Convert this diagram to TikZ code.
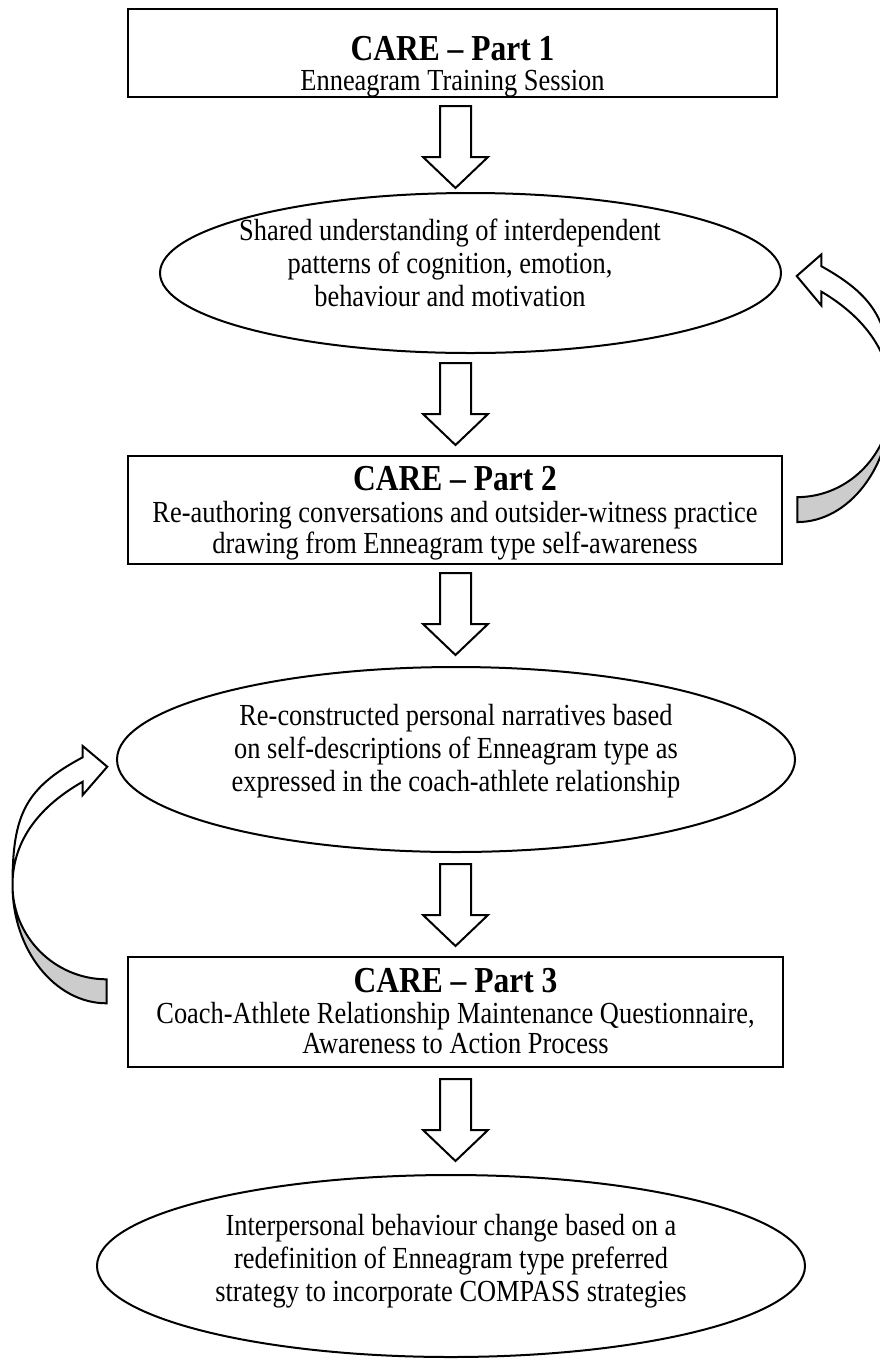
\documentclass[tikz,border=0pt]{standalone}
\usepackage{fontspec}
\setmainfont{Liberation Serif}
\usetikzlibrary{shapes.geometric,calc}
\definecolor{bandgray}{gray}{0.8}
\newcommand{\tallfont}[1]{\scalebox{1}[1.16]{#1}}
\tikzset{
  outline/.style={draw=black, line width=2pt, line join=miter},
  stagebox/.style={outline, rectangle, inner sep=0pt},
  outcome/.style={outline, ellipse, inner sep=0pt},
  titletext/.style={font=\fontsize{31.5}{36}\selectfont\bfseries, anchor=base, inner sep=0pt},
  bodytext/.style={font=\fontsize{26.4}{33}\selectfont, anchor=base, inner sep=0pt},
  % hollow block arrow pointing down, origin at the top centre of the shaft
  pics/blockdown/.style={code={
    \draw[outline, fill=white] (-15.5,0) -- (15.5,0) -- (15.5,51) -- (32.5,51)
      -- (0,82) -- (-32.5,51) -- (-15.5,51) -- cycle;
  }},
  % curved feedback arrow, origin at the arrow tip, band bending to the left
  pics/curvedarrow/.style={code={
    \draw[outline, fill=bandgray]
      (-94.8,118.3) .. controls (-94.8,183.3) and (-52.4,236.6) .. (-0.6,236.6)
      -- (-0.6,212.6) .. controls (-52.4,212.6) and (-94.8,170.3) .. (-94.8,118.3) -- cycle;
    \draw[outline, fill=white]
      (-24.6,-9.4) -- (-24.6,-20.7) -- (0,0) -- (-24.6,28.3) -- (-24.6,15)
      .. controls (-67.3,39.3) and (-94.8,73.3) .. (-94.8,118.3)
      .. controls (-94.8,48.3) and (-82.3,21.3) .. (-24.6,-9.4) -- cycle;
  }}
}
\begin{document}
\begin{tikzpicture}[x=1pt, y=-1pt]
\useasboundingbox (0,0) rectangle (880,1361);

% stage boxes
\node[stagebox, minimum width=649pt, minimum height=88pt] (b1) at (452.5,53.3) {};
\node[stagebox, minimum width=654pt, minimum height=108pt] (b2) at (455,510) {};
\node[stagebox, minimum width=655pt, minimum height=110pt] (b3) at (455.5,1012) {};

% outcome ellipses
\node[outcome, minimum width=621pt, minimum height=160pt] (e1) at (470.5,273) {};
\node[outcome, minimum width=678pt, minimum height=185pt] (e2) at (456,759.5) {};
\node[outcome, minimum width=708pt, minimum height=182pt] (e3) at (451,1266) {};

% texts of the stage boxes
\node[titletext] (b1t) at (452.5,60) {\tallfont{CARE – Part 1}};
\node[bodytext]  (b1a) at (452.5,90) {\tallfont{Enneagram Training Session}};

\node[titletext] (b2t) at (455,490) {\tallfont{CARE – Part 2}};
\node[bodytext]  (b2a) at (455,522) {\tallfont{Re-authoring conversations and outsider-witness practice}};
\node[bodytext]  (b2b) at (455,553) {\tallfont{drawing from Enneagram type self-awareness}};

\node[titletext] (b3t) at (455.5,992) {\tallfont{CARE – Part 3}};
\node[bodytext]  (b3a) at (455.5,1023) {\tallfont{Coach-Athlete Relationship Maintenance Questionnaire,}};
\node[bodytext]  (b3b) at (455.5,1053) {\tallfont{Awareness to Action Process}};

% texts of the outcome ellipses
\node[bodytext] (e1a) at (450,240) {\tallfont{Shared understanding of interdependent}};
\node[bodytext] (e1b) at (450,273) {\tallfont{patterns of cognition, emotion,}};
\node[bodytext] (e1c) at (450,306) {\tallfont{behaviour and motivation}};

\node[bodytext] (e2a) at (456,725) {\tallfont{Re-constructed personal narratives based}};
\node[bodytext] (e2b) at (456,758) {\tallfont{on self-descriptions of Enneagram type as}};
\node[bodytext] (e2c) at (456,791) {\tallfont{expressed in the coach-athlete relationship}};

\node[bodytext] (e3a) at (451,1235) {\tallfont{Interpersonal behaviour change based on a}};
\node[bodytext] (e3b) at (451,1268) {\tallfont{redefinition of Enneagram type preferred}};
\node[bodytext] (e3c) at (451,1301) {\tallfont{strategy to incorporate COMPASS strategies}};

% downward flow arrows
\pic at (455.5,106)  {blockdown};
\pic at (455.5,363)  {blockdown};
\pic at (455.5,573)  {blockdown};
\pic at (455.5,864)  {blockdown};
\pic at (455.5,1079) {blockdown};

% feedback arrows
\pic at (107.3,766.7) {curvedarrow};
\pic[xscale=-1, yscale=1.04] at (796.7,276) {curvedarrow};
\end{tikzpicture}
\end{document}
